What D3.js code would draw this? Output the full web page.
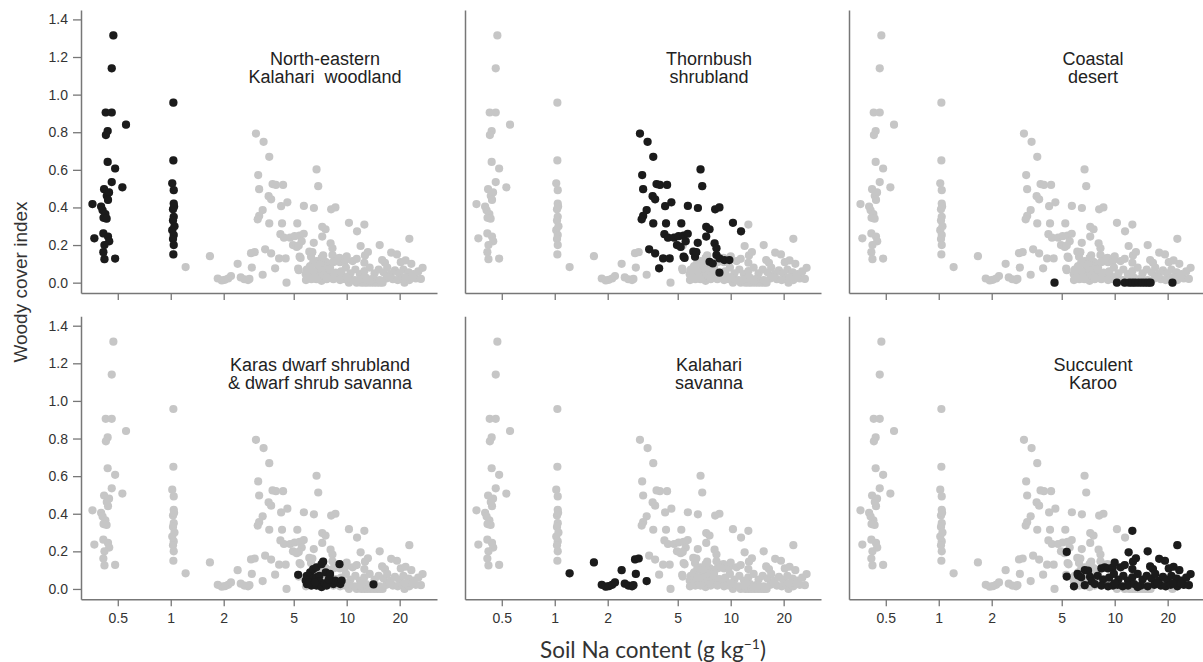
<!DOCTYPE html>
<html>
<head>
<meta charset="utf-8">
<script src="https://cdnjs.cloudflare.com/ajax/libs/d3/7.8.5/d3.min.js"></script>
<style>
  body { margin: 0; background: #fff; }
  svg { display: block; }
</style>
</head>
<body>
<svg id="chart" width="1203" height="662"></svg>
<script>
// each vegetation type: [soil Na (g/kg), woody cover index]
const neKalahariWoodland = [
  [0.472,1.315],[0.462,1.14],[0.427,0.905],[0.462,0.905],[0.557,0.84],[0.438,0.806],[0.428,0.785],
  [0.438,0.642],[0.483,0.607],[0.462,0.535],[0.531,0.507],[0.418,0.497],[0.433,0.462],[0.446,0.48],
  [0.359,0.418],[0.402,0.405],[0.44,0.44],[0.41,0.385],[0.425,0.365],[0.415,0.345],[0.432,0.34],
  [0.368,0.236],[0.414,0.262],[0.44,0.245],[0.447,0.22],[0.42,0.2],[0.414,0.162],[0.42,0.125],[0.483,0.128],
  [1.035,0.957],[1.035,0.65],[1.02,0.528],[1.04,0.492],[1.04,0.421],[1.03,0.39],[1.04,0.35],[1.03,0.33],
  [1.02,0.279],[1.04,0.253],[1.03,0.232],[1.04,0.2],[1.035,0.15],[1.05,0.3],[1.045,0.405]
];
const thornbushShrubland = [
  [3.05,0.793],[3.37,0.749],[3.63,0.669],[6.74,0.602],[6.89,0.513],[3.14,0.572],[3.18,0.497],[3.79,0.524],
  [3.96,0.52],[4.35,0.52],[3.6,0.46],[3.72,0.443],[4.6,0.427],[4.24,0.407],[5.71,0.408],[6.51,0.397],
  [8.16,0.39],[8.63,0.40],[3.33,0.386],[3.18,0.355],[3.12,0.337],[3.63,0.315],[4.29,0.315],[5.24,0.315],
  [10.3,0.318],[11.45,0.273],[7.26,0.297],[7.58,0.284],[4.2,0.258],[4.4,0.239],[4.77,0.239],[5.06,0.247],
  [5.4,0.25],[5.7,0.26],[4.95,0.2],[5.2,0.19],[5.55,0.22],[6.5,0.212],[7.26,0.245],[8.1,0.209],[8.3,0.183],
  [5.4,0.138],[6.13,0.165],[6.27,0.138],[8.3,0.147],[8.63,0.129],[9.2,0.12],[9.83,0.12],[7.58,0.111],
  [7.91,0.102],[3.44,0.177],[3.72,0.156],[4.13,0.129],[4.5,0.129],[3.92,0.076],[8.63,0.053],[6.38,0.162],[5.47,0.131]
];
const coastalDesert = [
  [4.55,0],[10.3,0],[11.4,0],[12.1,0],[12.6,0],[13.1,0],[13.7,0],[14.3,0],[14.9,0],[15.5,0],[16.0,0],[21.3,0]
];
const karasShrubland = [
  [5.3,0.075],[5.85,0.045],[5.93,0.07],[5.95,0.025],[6.2,0.088],[6.3,0.018],[6.45,0.055],[6.45,0.105],
  [6.74,0.115],[6.74,0.063],[6.74,0.018],[7.0,0.07],[7.0,0.04],[7.2,0.132],[7.2,0.01],[7.35,0.145],
  [7.5,0.03],[7.6,0.088],[7.69,0.018],[8.0,0.062],[8.04,0.08],[8.4,0.026],[8.6,0.045],[8.96,0.035],
  [9.1,0.132],[9.2,0.026],[9.36,0.044],[14.2,0.024],[6.1,0.035],[6.6,0.035],[7.9,0.05]
];
const kalahariSavanna = [
  [1.215,0.083],[1.67,0.141],[1.85,0.022],[1.95,0.012],[2.03,0.015],[2.12,0.022],[2.2,0.035],[2.4,0.10],
  [2.5,0.028],[2.62,0.018],[2.75,0.014],[2.8,0.02],[2.89,0.08],[2.86,0.157],[3.0,0.162],[3.33,0.042]
];
const succulentKaroo = [
  [5.34,0.197],[5.34,0.066],[5.87,0.014],[6.15,0.08],[6.2,0.071],[6.46,0.062],[6.76,0.1],[7.06,0.097],
  [7.24,0.065],[8.4,0.109],[8.77,0.115],[9.17,0.109],[9.76,0.115],[10.0,0.14],[10.8,0.115],[11.4,0.127],
  [12.0,0.195],[12.6,0.309],[12.7,0.145],[13.2,0.163],[12.6,0.106],[15.4,0.2],[15.9,0.12],[16.5,0.106],
  [17.9,0.16],[19.3,0.15],[20.3,0.109],[21.6,0.118],[22.7,0.233],[23.3,0.1],[27.0,0.079],
  [7.4,0.04],[8.0,0.07],[8.6,0.05],[9.3,0.06],[9.9,0.08],[10.5,0.05],[11.2,0.07],[11.9,0.045],[12.6,0.062],
  [13.5,0.08],[14.4,0.05],[15.2,0.07],[16.2,0.055],[17.0,0.08],[17.8,0.045],[18.8,0.065],[19.8,0.05],
  [21.0,0.07],[22.5,0.055],[24.0,0.045],[25.5,0.06],
  [6.76,0.02],[7.71,0.026],[8.4,0.018],[9.17,0.014],[9.78,0.018],[10.4,0.022],[11.1,0.014],[11.9,0.018],
  [12.9,0.026],[14.1,0.018],[15.4,0.014],[16.8,0.022],[18.3,0.018],[19.5,0.014],[20.8,0.022],[22.7,0.014],
  [24.7,0.022],[26.4,0.02],[10.0,0.03],[13.5,0.01],[17.5,0.03],[21.5,0.03],[23.8,0.03]
];

const panelTitles = [
  ["North-eastern", "Kalahari  woodland"],
  ["Thornbush", "shrubland"],
  ["Coastal", "desert"],
  ["Karas dwarf shrubland", "& dwarf shrub savanna"],
  ["Kalahari", "savanna"],
  ["Succulent", "Karoo"]
];
const panelData = [neKalahariWoodland, thornbushShrubland, coastalDesert, karasShrubland, kalahariSavanna, succulentKaroo];
const xTicks = [0.5, 1, 2, 5, 10, 20];
const yTicks = [0, 0.2, 0.4, 0.6, 0.8, 1.0, 1.2, 1.4];

const allPoints = panelData.flat();

const svg = d3.select("#chart");
const pw = 356, ph = 283;
const lefts = [81, 465, 849], tops = [10, 316.3];
const titleShift = [0, 0, 0, -5, 0, 0];

const x = d3.scaleLog().domain([0.309, 32.6]).range([0, pw]);
const y = d3.scaleLinear().domain([-0.055, 1.45]).range([ph, 0]);

panelData.forEach((pts, i) => {
  const col = i % 3, row = Math.floor(i / 3);
  const g = svg.append("g").attr("transform", `translate(${lefts[col]},${tops[row]})`);

  // gris = todos los sitios, negro = el tipo de vegetación
  g.append("g").selectAll("circle")
    .data(allPoints)
    .join("circle")
    .attr("cx", d => x(d[0]))
    .attr("cy", d => y(d[1]))
    .attr("r", 4.1)
    .attr("fill", "#c6c6c6");

  g.append("g").selectAll("circle")
    .data(pts)
    .join("circle")
    .attr("cx", d => x(d[0]))
    .attr("cy", d => y(d[1]))
    .attr("r", 4.1)
    .attr("fill", "#1b1b1b");

  const xAxis = d3.axisBottom(x).tickValues(xTicks).tickSizeInner(7).tickSizeOuter(0).tickPadding(7)
    .tickFormat(row === 1 ? d3.format("") : () => "");
  const yAxis = d3.axisLeft(y).tickSizeOuter(0).tickSizeInner(8).tickPadding(5)
    .tickValues(col === 0 ? yTicks : []).tickFormat(d3.format(".1f"));

  const ax = g.append("g").attr("transform", `translate(0,${ph})`).call(xAxis);
  const ay = g.append("g").call(yAxis);
  [ax, ay].forEach(a => {
    a.select(".domain").attr("stroke", "#777").attr("stroke-width", 1.5);
    a.selectAll(".tick line").attr("stroke", "#777").attr("stroke-width", 1.3);
    a.selectAll(".tick text").attr("fill", "#333")
      .style("font", "14px 'Liberation Sans', Arial, sans-serif");
  });

  const t = g.append("text")
    .attr("x", 244 + titleShift[i])
    .attr("y", 55)
    .attr("text-anchor", "middle")
    .attr("fill", "#222")
    .style("font", "18px 'Liberation Sans', Arial, sans-serif")
    .style("white-space", "pre");
  panelTitles[i].forEach((line, k) => {
    t.append("tspan").attr("x", 244 + titleShift[i]).attr("dy", k === 0 ? 0 : 18).text(line);
  });
});

svg.append("text")
  .attr("transform", "translate(27,282) rotate(-90)")
  .attr("text-anchor", "middle")
  .attr("fill", "#333")
  .style("font", "19px 'Liberation Sans', Arial, sans-serif")
  .text("Woody cover index");

const xt = svg.append("text")
  .attr("x", 653)
  .attr("y", 658)
  .attr("text-anchor", "middle")
  .attr("fill", "#333")
  .style("font", "22.5px Lato, 'Open Sans', sans-serif");
xt.append("tspan").text("Soil Na content (g kg");
xt.append("tspan").attr("dy", -9).style("font-size", "14px").text("\u22121");
xt.append("tspan").attr("dy", 9).text(")");
</script>
</body>
</html>
